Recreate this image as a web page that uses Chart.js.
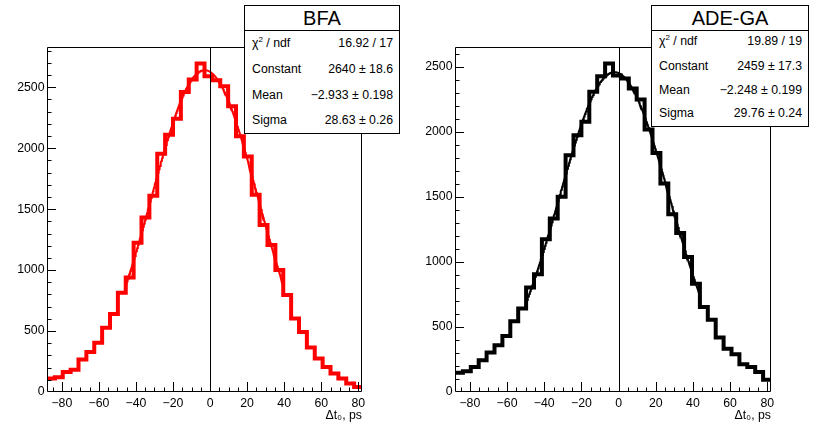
<!DOCTYPE html>
<html>
<head>
<meta charset="utf-8">
<script src="https://cdn.jsdelivr.net/npm/chart.js@4.4.1/dist/chart.umd.min.js"></script>
<style>
  html, body { margin: 0; padding: 0; background: #fff; }
  body { width: 817px; height: 440px; position: relative; overflow: hidden; font-family: "Liberation Sans", Arial, sans-serif; color: #000; }
  canvas { position: absolute; top: 0; }
  #bfaCanvas { left: 0; }
  #adeCanvas { left: 408px; }
  .stats { position: absolute; top: 5px; background: #fff; border: 1.5px solid #000; box-sizing: border-box; }
  .stats .ttl { height: 24px; line-height: 25px; border-bottom: 1.5px solid #000; text-align: center; font-size: 20px; }
  .stats .row { position: absolute; left: 7px; right: 6px; font-size: 12.3px; line-height: 14px; white-space: nowrap; }
  .stats .row .v { position: absolute; right: 0; top: 0; }
  .stats sup { font-size: 8px; line-height: 0; vertical-align: 5px; }
</style>
</head>
<body>
<canvas id="bfaCanvas" width="408" height="440"></canvas>
<canvas id="adeCanvas" width="409" height="440"></canvas>

<div class="stats" id="bfaStats" style="left:244px;width:156px;height:129px;">
  <div class="ttl">BFA</div>
  <div class="row" style="top:30px">χ<sup>2</sup> / ndf<span class="v">16.92 / 17</span></div>
  <div class="row" style="top:56px">Constant<span class="v">2640 ± 18.6</span></div>
  <div class="row" style="top:82px">Mean<span class="v">−2.933 ± 0.198</span></div>
  <div class="row" style="top:107px">Sigma<span class="v">28.63 ± 0.26</span></div>
</div>
<div class="stats" id="adeStats" style="left:651px;width:158px;height:122px;">
  <div class="ttl">ADE-GA</div>
  <div class="row" style="top:28px">χ<sup>2</sup> / ndf<span class="v">19.89 / 19</span></div>
  <div class="row" style="top:53px">Constant<span class="v">2459 ± 17.3</span></div>
  <div class="row" style="top:77px">Mean<span class="v">−2.248 ± 0.199</span></div>
  <div class="row" style="top:100px">Sigma<span class="v">29.76 ± 0.24</span></div>
</div>

<script>
// histogram binning (40 bins)
const X_MIN = -88;
const X_MAX = 82;
const BIN_W = 4.25;

// bin contents
const bfaCounts = [110, 120, 164, 182, 266, 329, 405, 527, 639, 814,
                   940, 1225, 1431, 1609, 1954, 2111, 2242, 2461, 2563, 2695,
                   2590, 2557, 2508, 2344, 2097, 1932, 1617, 1370, 1206, 1000,
                   795, 603, 493, 365, 274, 206, 151, 110, 69, 41];
const adeCounts = [148, 160, 192, 244, 303, 359, 431, 544, 641, 803,
                   905, 1174, 1333, 1500, 1820, 1974, 2077, 2308, 2428, 2525,
                   2433, 2410, 2333, 2249, 2018, 1838, 1603, 1367, 1223, 1038,
                   833, 654, 556, 418, 333, 290, 213, 192, 154, 95];

// gaussian fit parameters (constant, mean, sigma) and fit ranges
const bfaFitPar = [2640, -2.933, 28.63];
const bfaFitRange = [-45.5, 39.5];
const adeFitPar = [2459, -2.248, 29.76];
const adeFitRange = [-49.75, 43.75];

const bfaYMax = 2830;
const adeYMax = 2652;

// labelled ticks
const xTickVals = [-80, -60, -40, -20, 0, 20, 40, 60, 80];
const yTickVals = [0, 500, 1000, 1500, 2000, 2500];

const xAxisTitle = 'Δt₀, ps';

const FONT = 'Liberation Sans';
const binEdges = Array.from({ length: bfaCounts.length + 1 }, (_, i) => X_MIN + i * BIN_W);

const fmtMinus = v => (v < 0 ? '\u2212' + Math.abs(v) : String(v));

// ROOT-like frame: box, inward major/minor ticks, line at x = 0
const rootFrame = {
  id: 'rootFrame',
  afterDatasetsDraw(chart) {
    const { ctx, chartArea: a, scales: { x, y } } = chart;
    ctx.save();
    ctx.strokeStyle = '#000';
    ctx.lineWidth = 1;
    ctx.beginPath();
    // zero line
    const x0 = Math.round(x.getPixelForValue(0)) + 0.5;
    ctx.moveTo(x0, a.top);
    ctx.lineTo(x0, a.bottom);
    // frame
    ctx.rect(a.left + 0.5, a.top + 0.5, a.width - 1, a.height - 1);
    // x ticks
    for (let v = -85; v <= x.max; v += 5) {
      const px = Math.round(x.getPixelForValue(v)) + 0.5;
      const len = v % 20 === 0 ? 10 : 4.5;
      ctx.moveTo(px, a.bottom);
      ctx.lineTo(px, a.bottom - len);
    }
    // y ticks
    for (let v = 100; v <= y.max; v += 100) {
      const py = Math.round(y.getPixelForValue(v)) + 0.5;
      const len = v % 500 === 0 ? 9 : 4.5;
      ctx.moveTo(a.left, py);
      ctx.lineTo(a.left + len, py);
    }
    ctx.stroke();
    ctx.restore();
  }
};

function makeHist(canvasId, counts, color, fitPar, fitRange, yMax) {
  const histPts = binEdges.map((e, i) => ({ x: e, y: counts[Math.min(i, counts.length - 1)] }));
  const fitPts = [];
  for (let t = fitRange[0]; t <= fitRange[1] + 1e-9; t += 0.25) {
    const d = (t - fitPar[1]) / fitPar[2];
    fitPts.push({ x: t, y: fitPar[0] * Math.exp(-0.5 * d * d) });
  }

  return new Chart(document.getElementById(canvasId), {
    type: 'line',
    data: {
      datasets: [
        { data: histPts, stepped: true, borderColor: color, borderWidth: 4,
          pointRadius: 0, fill: false, borderJoinStyle: 'miter', borderCapStyle: 'butt' },
        { data: fitPts, borderColor: color, borderWidth: 2, pointRadius: 0,
          fill: false, tension: 0 }
      ]
    },
    options: {
      responsive: false,
      animation: false,
      events: [],
      layout: { padding: { left: 0, top: 47, right: 46, bottom: 0 } },
      plugins: { legend: { display: false }, tooltip: { enabled: false } },
      scales: {
        x: {
          type: 'linear', min: X_MIN, max: X_MAX,
          grid: { display: false, drawTicks: false }, border: { display: false },
          afterBuildTicks: s => { s.ticks = xTickVals.map(v => ({ value: v })); },
          afterFit: s => { s.height = 48; },
          ticks: {
            autoSkip: false, maxRotation: 0,
            padding: 4, color: '#000', font: { family: FONT, size: 12.3 },
            callback: fmtMinus
          },
          title: {
            display: true, text: xAxisTitle, align: 'end', color: '#000',
            font: { family: FONT, size: 12.3 }, padding: { top: 0, bottom: 17 }
          }
        },
        y: {
          type: 'linear', min: 0, max: yMax,
          grid: { display: false, drawTicks: false }, border: { display: false },
          afterBuildTicks: s => { s.ticks = yTickVals.map(v => ({ value: v })); },
          afterFit: s => { s.width = 47; },
          ticks: {
            autoSkip: false, padding: 2.5, color: '#000',
            font: { family: FONT, size: 12.3 }, callback: fmtMinus
          }
        }
      }
    },
    plugins: [rootFrame]
  });
}

makeHist('bfaCanvas', bfaCounts, '#ff0000', bfaFitPar, bfaFitRange, bfaYMax);
makeHist('adeCanvas', adeCounts, '#000000', adeFitPar, adeFitRange, adeYMax);
</script>
</body>
</html>
